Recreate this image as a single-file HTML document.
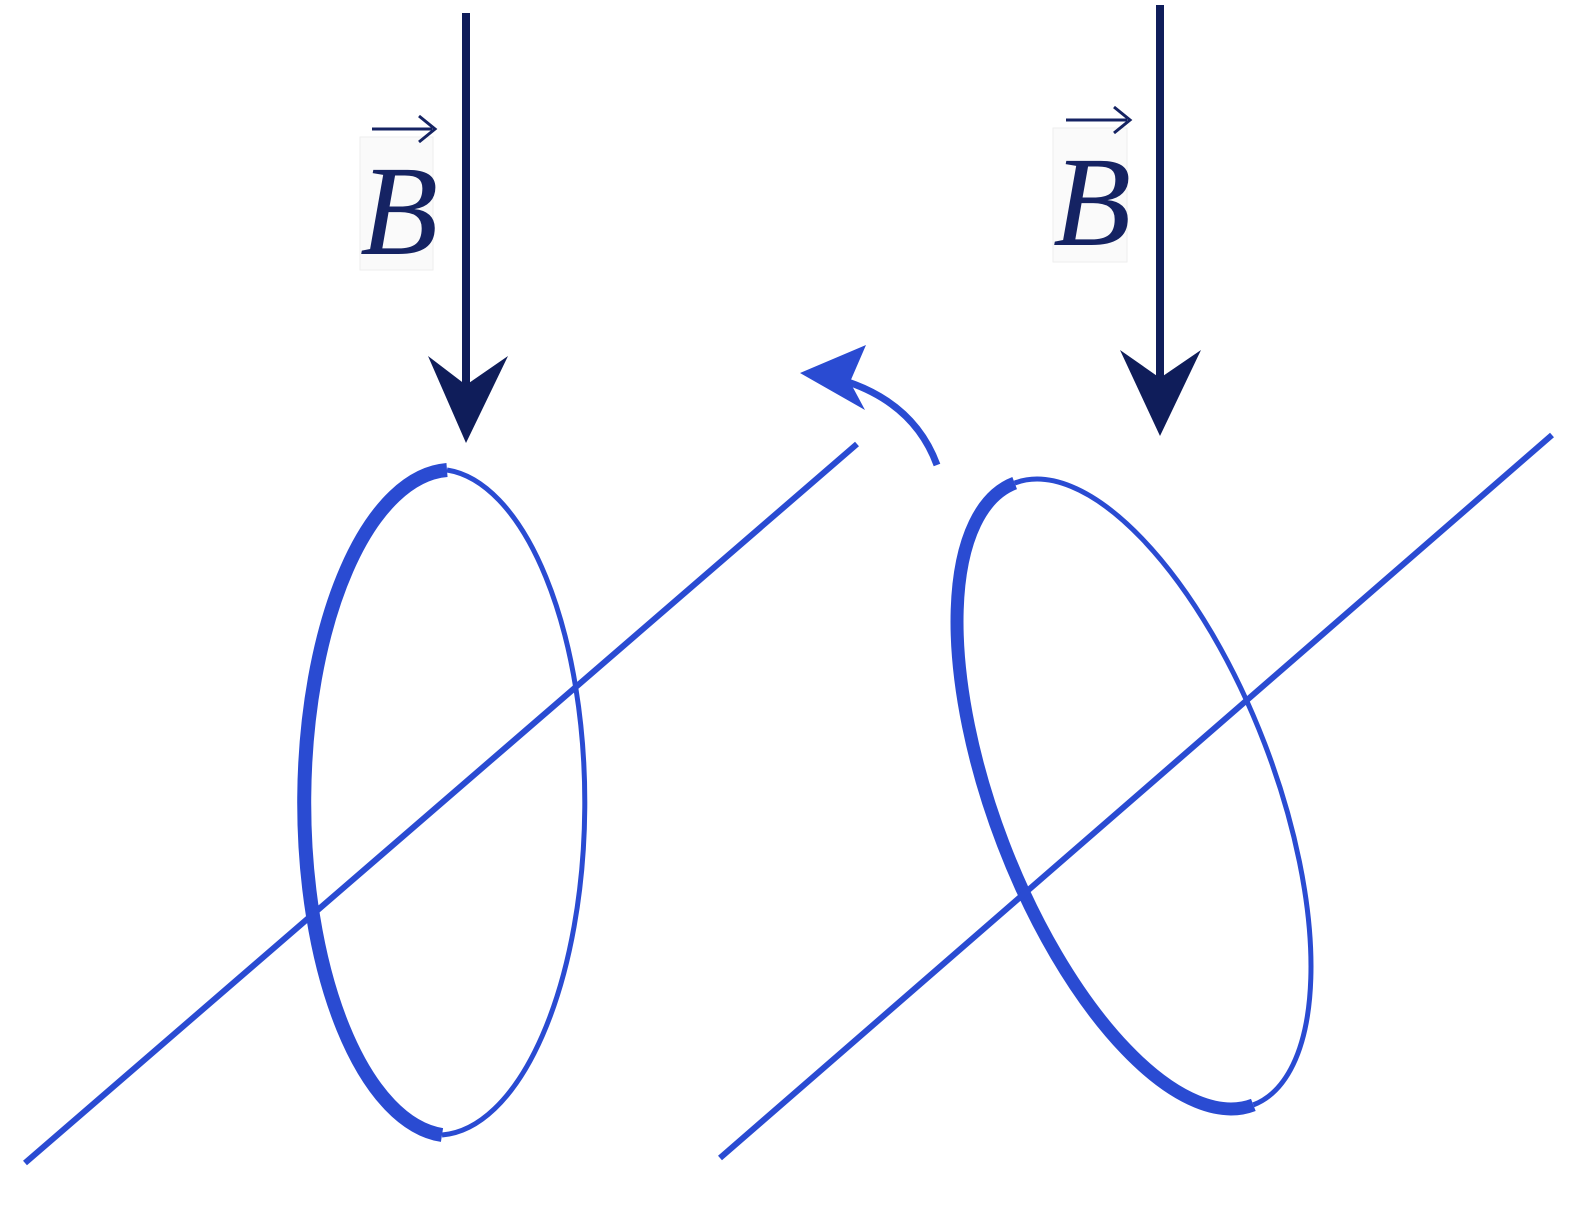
<!DOCTYPE html>
<html><head><style>
html,body{margin:0;padding:0;background:#fff;width:1590px;height:1208px;overflow:hidden}
</style></head><body>
<svg width="1590" height="1208" viewBox="0 0 1590 1208" xmlns="http://www.w3.org/2000/svg">
<!-- Left B arrow -->
<line x1="466" y1="13" x2="466" y2="400" stroke="#0f1d5a" stroke-width="8"/>
<path d="M428,356 L466,385 L508,356 L466,443 Z" fill="#0f1d5a"/>
<rect x="360" y="137" width="73" height="133" fill="#fafafa" stroke="#eee" stroke-width="1"/>
<text x="360" y="254" font-family="Liberation Serif, serif" font-style="italic" font-size="128" fill="#152363">B</text>
<line x1="372" y1="129" x2="432" y2="129" stroke="#152363" stroke-width="3"/>
<path d="M419,116 L435,129 L419,142" fill="none" stroke="#152363" stroke-width="3"/>
<!-- Right B arrow -->
<line x1="1160" y1="5" x2="1160" y2="390" stroke="#0f1d5a" stroke-width="8"/>
<path d="M1120,350 L1160,378 L1201,350 L1160,436 Z" fill="#0f1d5a"/>
<rect x="1053" y="128" width="74" height="134" fill="#fafafa" stroke="#eee" stroke-width="1"/>
<text x="1053" y="245" font-family="Liberation Serif, serif" font-style="italic" font-size="128" fill="#152363">B</text>
<line x1="1066" y1="120" x2="1127" y2="120" stroke="#152363" stroke-width="3"/>
<path d="M1114,107 L1130,120 L1114,133" fill="none" stroke="#152363" stroke-width="3"/>
<!-- Left loop -->
<g transform="translate(442,802)">
<path d="M5,-332 A148,333 0 0 0 0,333" fill="none" stroke="#2a4bd2" stroke-width="14"/>
<path d="M5,-332 A148,333 0 0 1 0,333" fill="none" stroke="#2a4bd2" stroke-width="5"/>
</g>
<line x1="25" y1="1163" x2="857" y2="444" stroke="#2a4bd2" stroke-width="6"/>
<!-- Right loop -->
<g transform="translate(1134,794) rotate(-21)">
<path d="M0,-333 A140,333 0 0 0 0,333" fill="none" stroke="#2a4bd2" stroke-width="13"/>
<path d="M0,-333 A140,333 0 0 1 0,333" fill="none" stroke="#2a4bd2" stroke-width="5"/>
</g>
<line x1="720" y1="1158" x2="1552" y2="435" stroke="#2a4bd2" stroke-width="6"/>
<!-- rotation arrow -->
<path d="M937,465 Q915,405 848,382" fill="none" stroke="#2a4bd2" stroke-width="7"/>
<path d="M800,373 L866,345 L850,382 L865,410 Z" fill="#2a4bd2"/>
</svg>
</body></html>
